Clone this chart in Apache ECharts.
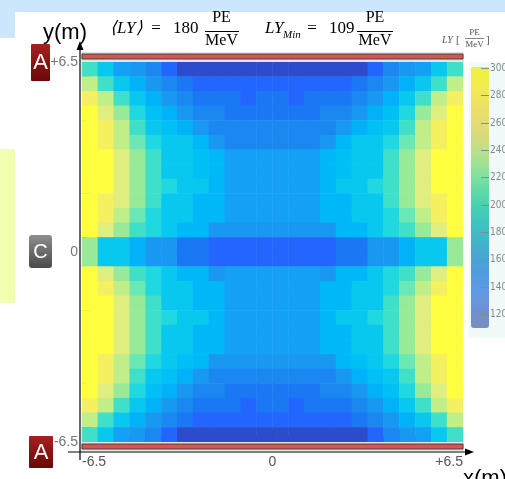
<!DOCTYPE html>
<html>
<head>
<meta charset="utf-8">
<script src="https://cdn.jsdelivr.net/npm/echarts@6/dist/echarts.min.js"></script>
<style>
html, body { margin: 0; padding: 0; background: #fff; }
#main { width: 505px; height: 479px; }
</style>
</head>
<body>
<div id="main"></div>
<script>
// light yield per cell (PE/MeV), row 0 = top (y = +6.5 m), column 0 = left (x = -6.5 m)
var lyRows = [
  [195, 175, 156, 150, 143, 128, 112, 112, 112, 112, 112, 112, 112, 112, 112, 112, 112, 112, 128, 143, 150, 156, 175, 195],
  [240, 195, 175, 162, 152, 145, 138, 128, 128, 128, 128, 128, 128, 128, 128, 128, 128, 138, 145, 152, 162, 175, 195, 240],
  [270, 240, 195, 175, 162, 152, 145, 138, 138, 138, 128, 138, 138, 128, 138, 138, 138, 145, 152, 162, 175, 195, 240, 270],
  [290, 255, 225, 185, 170, 162, 152, 145, 145, 138, 138, 138, 138, 138, 138, 145, 145, 152, 162, 170, 185, 225, 255, 290],
  [290, 270, 240, 195, 175, 170, 162, 152, 145, 145, 145, 145, 145, 145, 145, 145, 152, 162, 170, 175, 195, 240, 270, 290],
  [290, 278, 240, 210, 185, 175, 175, 166, 152, 147, 147, 147, 147, 147, 147, 152, 166, 175, 175, 185, 210, 240, 278, 290],
  [290, 290, 255, 225, 195, 175, 175, 170, 166, 156, 156, 156, 156, 156, 156, 166, 170, 175, 175, 195, 225, 255, 290, 290],
  [290, 290, 255, 225, 195, 175, 175, 170, 166, 156, 156, 156, 156, 156, 156, 166, 170, 175, 175, 195, 225, 255, 290, 290],
  [290, 290, 255, 225, 195, 185, 175, 175, 166, 156, 156, 156, 156, 156, 156, 166, 175, 175, 185, 195, 225, 255, 290, 290],
  [290, 278, 255, 225, 195, 175, 175, 166, 166, 156, 156, 156, 156, 156, 156, 166, 166, 175, 175, 195, 225, 255, 278, 290],
  [290, 270, 240, 210, 185, 175, 175, 166, 166, 156, 156, 156, 156, 156, 156, 166, 166, 175, 175, 185, 210, 240, 270, 290],
  [290, 255, 225, 195, 185, 175, 166, 166, 152, 152, 152, 152, 152, 152, 152, 152, 166, 166, 175, 185, 195, 225, 255, 290],
  [225, 172, 175, 164, 152, 152, 138, 138, 128, 128, 128, 128, 128, 128, 128, 128, 138, 138, 152, 152, 164, 175, 172, 225],
  [225, 172, 175, 164, 152, 152, 138, 138, 128, 128, 128, 128, 128, 128, 128, 128, 138, 138, 152, 152, 164, 175, 172, 225],
  [290, 255, 225, 195, 185, 175, 166, 166, 152, 156, 156, 156, 156, 156, 156, 152, 166, 166, 175, 185, 195, 225, 255, 290],
  [290, 270, 240, 210, 185, 175, 175, 166, 166, 156, 156, 156, 156, 156, 156, 166, 166, 175, 175, 185, 210, 240, 270, 290],
  [290, 290, 255, 225, 195, 175, 175, 166, 166, 156, 156, 156, 156, 156, 156, 166, 166, 175, 175, 195, 225, 255, 290, 290],
  [290, 290, 255, 225, 195, 185, 175, 175, 166, 156, 156, 156, 156, 156, 156, 166, 175, 175, 185, 195, 225, 255, 290, 290],
  [290, 290, 255, 225, 195, 175, 175, 166, 166, 156, 156, 156, 156, 156, 156, 166, 166, 175, 175, 195, 225, 255, 290, 290],
  [290, 290, 255, 225, 195, 175, 175, 166, 166, 156, 156, 156, 156, 156, 156, 166, 166, 175, 175, 195, 225, 255, 290, 290],
  [290, 270, 240, 210, 185, 175, 170, 166, 152, 148, 148, 148, 148, 148, 148, 152, 166, 170, 175, 185, 210, 240, 270, 290],
  [290, 270, 240, 195, 175, 170, 162, 152, 145, 145, 145, 145, 145, 145, 145, 145, 152, 162, 170, 175, 195, 240, 270, 290],
  [290, 255, 225, 185, 170, 162, 152, 145, 145, 138, 138, 138, 138, 138, 138, 145, 145, 152, 162, 170, 185, 225, 255, 290],
  [270, 240, 195, 175, 162, 152, 145, 138, 138, 138, 128, 138, 138, 128, 138, 138, 138, 145, 152, 162, 175, 195, 240, 270],
  [240, 195, 175, 164, 152, 145, 138, 128, 128, 128, 128, 128, 128, 128, 128, 128, 128, 138, 145, 152, 164, 175, 195, 240],
  [195, 175, 156, 150, 143, 128, 112, 112, 112, 112, 112, 112, 112, 112, 112, 112, 112, 112, 128, 143, 150, 156, 175, 195]
]

var xTickValues = [-6.5, 0, 6.5]
var xTickLabels = ['-6.5', '0', '+6.5']
var yTickValues = [-6.5, 0, 6.5]
var yTickLabels = ['-6.5', '0', '+6.5']
var xMinorTicks = [1, 2, 3, 5, 6, 7, 9, 10, 11, 13, 14, 15, 17, 18, 19, 21, 22, 23]
var xMajorTicks = [4, 8, 12, 16, 20]
var yMinorTicks = [2, 3, 4, 6, 7, 8, 10, 11, 12, 14, 15, 16, 18, 19, 20, 22, 23, 24]
var yMajorTicks = [1, 5, 9, 13, 17, 21, 25]
var barTicks = [120, 140, 160, 180, 200, 220, 240, 260, 280, 300]

// colour scale of the map
var lyPieces = [
  { lt: 120, color: '#2c4ccc' },
  { gte: 120, lt: 133, color: '#2266ff' },
  { gte: 133, lt: 141, color: '#1a78f5' },
  { gte: 141, lt: 147.5, color: '#1a88f0' },
  { gte: 147.5, lt: 154, color: '#1898f0' },
  { gte: 154, lt: 159, color: '#14a0f4' },
  { gte: 159, lt: 165, color: '#02b2f8' },
  { gte: 165, lt: 168, color: '#00b8f8' },
  { gte: 168, lt: 172, color: '#00c0f5' },
  { gte: 172, lt: 180, color: '#08c8f0' },
  { gte: 180, lt: 190, color: '#20d8e0' },
  { gte: 190, lt: 202, color: '#40e0c8' },
  { gte: 202, lt: 217, color: '#6ce8b4' },
  { gte: 217, lt: 232, color: '#98ea98' },
  { gte: 232, lt: 247, color: '#c0ee88' },
  { gte: 247, lt: 262, color: '#e0ee80' },
  { gte: 262, lt: 282, color: '#f5f060' },
  { gte: 282, color: '#ffff40' }
]
// faded palette of the colour bar, 110 -> 300
var barColors = ['#7a8fbf', '#7090cc', '#6896dc', '#5c9ae4', '#509ade', '#48a4d6', '#44b0cc', '#40bcc4', '#40c8bc', '#48d2b0',
  '#60daa8', '#80e0a0', '#a0e294', '#c0e088', '#d6da7c', '#e4dc74', '#ecde68', '#f0e858', '#f2ee48', '#f0f040']

var colIdx = lyRows[0].map(function (v, i) { return i })
var rowIdx = lyRows.map(function (r, i) { return i })
var cells = []
lyRows.forEach(function (row, r) {
  row.forEach(function (v, c) {
    cells.push([c, r, v])
  })
})

function txt (x, y, s, font, color, align) {
  return {
    type: 'text',
    x: x,
    y: y,
    z: 20,
    style: {
      text: s,
      font: font,
      fill: color || '#000',
      align: align || 'left',
      verticalAlign: 'middle',
      textAlign: align || 'left',
      textVerticalAlign: 'middle'
    }
  }
}
function hline (x1, x2, y, w, color) {
  return { type: 'line', z: 20, shape: { x1: x1, y1: y, x2: x2, y2: y }, style: { stroke: color || '#000', lineWidth: w } }
}
var serif = 'Liberation Serif, serif'
var sans = 'Liberation Sans, Arial, sans-serif'
var noLine = { show: false, onZero: false }

var myChart = echarts.init(document.getElementById('main'))
var option = {
  backgroundColor: '#fff',
  animation: false,
  grid: [
    { left: 82, right: 42, top: 62, bottom: 37, outerBoundsMode: 'none', containLabel: false },
    { left: 471, top: 67, width: 18, height: 261, outerBoundsMode: 'none', containLabel: false }
  ],
  xAxis: [
    { type: 'category', gridIndex: 0, data: colIdx, show: false },
    {
      type: 'value', gridIndex: 0, min: -6.5, max: 6.5, position: 'bottom',
      axisLine: noLine, axisTick: { show: false }, splitLine: { show: false },
      axisLabel: {
        customValues: xTickValues,
        formatter: function (v) { return xTickLabels[xTickValues.indexOf(v)] },
        color: '#555', fontSize: 14, fontFamily: sans, margin: 13,
        alignMinLabel: 'left', alignMaxLabel: 'right'
      }
    },
    {
      type: 'value', gridIndex: 0, min: 0, max: 24, position: 'bottom',
      axisLine: noLine, axisLabel: { show: false }, splitLine: { show: false },
      axisTick: { show: true, inside: true, length: 6, customValues: xMinorTicks, lineStyle: { color: '#222' } }
    },
    {
      type: 'value', gridIndex: 0, min: 0, max: 24, position: 'bottom',
      axisLine: noLine, axisLabel: { show: false }, splitLine: { show: false },
      axisTick: { show: true, inside: true, length: 12, customValues: xMajorTicks, lineStyle: { color: '#222' } }
    },
    { type: 'value', gridIndex: 1, show: false, min: 0, max: 1, axisLine: noLine }
  ],
  yAxis: [
    { type: 'category', gridIndex: 0, data: rowIdx, inverse: true, show: false },
    {
      type: 'value', gridIndex: 0, min: -6.5, max: 6.5, position: 'left',
      axisLine: noLine, axisTick: { show: false }, splitLine: { show: false },
      axisLabel: {
        customValues: yTickValues,
        formatter: function (v) { return yTickLabels[yTickValues.indexOf(v)] },
        color: '#777', fontSize: 14, fontFamily: sans, margin: 4
      }
    },
    {
      type: 'value', gridIndex: 0, min: 0, max: 26, position: 'left',
      axisLine: noLine, axisLabel: { show: false }, splitLine: { show: false },
      axisTick: { show: true, inside: true, length: 4, customValues: yMinorTicks, lineStyle: { color: '#222' } }
    },
    {
      type: 'value', gridIndex: 0, min: 0, max: 26, position: 'left',
      axisLine: noLine, axisLabel: { show: false }, splitLine: { show: false },
      axisTick: { show: true, inside: true, length: 9, customValues: yMajorTicks, lineStyle: { color: '#222' } }
    },
    {
      type: 'value', gridIndex: 1, min: 110, max: 301, position: 'right',
      axisLine: noLine, splitLine: { show: false },
      axisTick: { show: true, inside: true, length: 8, customValues: barTicks, lineStyle: { color: '#8a8a8a' } },
      axisLabel: { customValues: barTicks, color: '#888', fontSize: 10, fontFamily: 'Liberation Sans Narrow, DejaVu Sans Condensed, sans-serif', margin: 1 },
      z: 10
    }
  ],
  visualMap: [
    { type: 'piecewise', show: false, seriesIndex: 0, dimension: 2, pieces: lyPieces },
    {
      type: 'continuous', show: true, seriesIndex: 1, min: 110, max: 301, calculable: false,
      orient: 'vertical', left: 471, top: 67, itemWidth: 18, itemHeight: 261, padding: 0,
      inRange: { color: barColors }, z: 1
    }
  ],
  series: [
    {
      type: 'heatmap', xAxisIndex: 0, yAxisIndex: 0, data: cells,
      emphasis: { disabled: true }, itemStyle: { borderWidth: 0 }, progressive: 0
    },
    { type: 'scatter', xAxisIndex: 4, yAxisIndex: 4, data: [] }
  ],
  graphic: {
    elements: [
      // page decorations
      { type: 'rect', z: 0, shape: { x: 0, y: 0, width: 505, height: 12 }, style: { fill: '#cbe6fd' } },
      { type: 'rect', z: 0, shape: { x: 0, y: 0, width: 15, height: 38 }, style: { fill: '#cbe6fd' } },
      { type: 'rect', z: 0, shape: { x: 0, y: 149, width: 15, height: 154 }, style: { fill: '#f0ffb0' } },
      { type: 'rect', z: 0, shape: { x: 469, y: 62, width: 36, height: 276 }, style: { fill: '#f1f9f9' } },
      // detector end caps
      { type: 'rect', z: 10, shape: { x: 81, y: 52, width: 383, height: 10 }, style: { fill: '#e4e4e4' } },
      { type: 'rect', z: 11, shape: { x: 82, y: 54, width: 381, height: 5 }, style: { fill: '#d9534f', stroke: '#444', lineWidth: 1 } },
      { type: 'rect', z: 10, shape: { x: 81, y: 442, width: 383, height: 9 }, style: { fill: '#e4e4e4' } },
      { type: 'rect', z: 11, shape: { x: 82, y: 444, width: 381, height: 5 }, style: { fill: '#d9534f', stroke: '#444', lineWidth: 1 } },
      // axes with arrows
      { type: 'line', z: 12, shape: { x1: 80, y1: 460, x2: 80, y2: 48 }, style: { stroke: '#000', lineWidth: 1.2 } },
      { type: 'polygon', z: 12, shape: { points: [[80, 41], [76.5, 50], [83.5, 50]] }, style: { fill: '#000' } },
      { type: 'line', z: 12, shape: { x1: 68, y1: 452, x2: 467, y2: 452 }, style: { stroke: '#000', lineWidth: 1.2 } },
      { type: 'polygon', z: 12, shape: { points: [[474, 452], [465, 448.5], [465, 455.5]] }, style: { fill: '#000' } },
      // A / C markers
      {
        type: 'rect', z: 12, shape: { x: 31, y: 44, width: 19, height: 37, r: 1 },
        style: { fill: { type: 'linear', x: 0, y: 0, x2: 0, y2: 1, colorStops: [{ offset: 0, color: '#a82020' }, { offset: 1, color: '#6a0808' }] } }
      },
      txt(40.5, 63, 'A', '22px ' + sans, '#fff', 'center'),
      {
        type: 'rect', z: 12, shape: { x: 29, y: 436, width: 24, height: 32, r: 1 },
        style: { fill: { type: 'linear', x: 0, y: 0, x2: 0, y2: 1, colorStops: [{ offset: 0, color: '#a82020' }, { offset: 1, color: '#6a0808' }] } }
      },
      txt(41, 453, 'A', '22px ' + sans, '#fff', 'center'),
      {
        type: 'rect', z: 12, shape: { x: 29, y: 235, width: 23, height: 33, r: 3 },
        style: { fill: { type: 'linear', x: 0, y: 0, x2: 0, y2: 1, colorStops: [{ offset: 0, color: '#8e8e8e' }, { offset: 1, color: '#4a4a4a' }] } }
      },
      txt(40.5, 252, 'C', '20px ' + sans, '#fff', 'center'),
      // axis titles
      txt(43, 33, 'y(m)', '22px ' + sans, '#000', 'left'),
      txt(463, 479, 'x(m)', '22px ' + sans, '#000', 'left'),
      // headline
      txt(110, 29, '⟨LY⟩', 'italic 17px ' + serif),
      txt(156, 29, '=', '17px ' + serif, '#000', 'center'),
      txt(173, 29, '180', '17px ' + serif),
      txt(221.5, 18, 'PE', '16px ' + serif, '#000', 'center'),
      hline(205, 239, 31.5, 1.2),
      txt(221.5, 41, 'MeV', '16px ' + serif, '#000', 'center'),
      txt(265, 29, 'LY', 'italic 17px ' + serif),
      txt(283, 35, 'Min', 'italic 11px ' + serif),
      txt(312, 29, '=', '17px ' + serif, '#000', 'center'),
      txt(329, 29, '109', '17px ' + serif),
      txt(375, 18, 'PE', '16px ' + serif, '#000', 'center'),
      hline(357, 393, 31.5, 1.2),
      txt(375, 41, 'MeV', '16px ' + serif, '#000', 'center'),
      // colour bar title
      txt(442, 40, 'LY', 'italic 10px ' + serif, '#555'),
      txt(456, 40, '[', '11px ' + serif, '#555'),
      txt(474.5, 33, 'PE', '9px ' + serif, '#555', 'center'),
      hline(465, 484, 38.5, 0.7, '#555'),
      txt(474.5, 45, 'MeV', '9px ' + serif, '#555', 'center'),
      txt(486, 40, ']', '11px ' + serif, '#555')
    ]
  }
}
myChart.setOption(option)
</script>
</body>
</html>
